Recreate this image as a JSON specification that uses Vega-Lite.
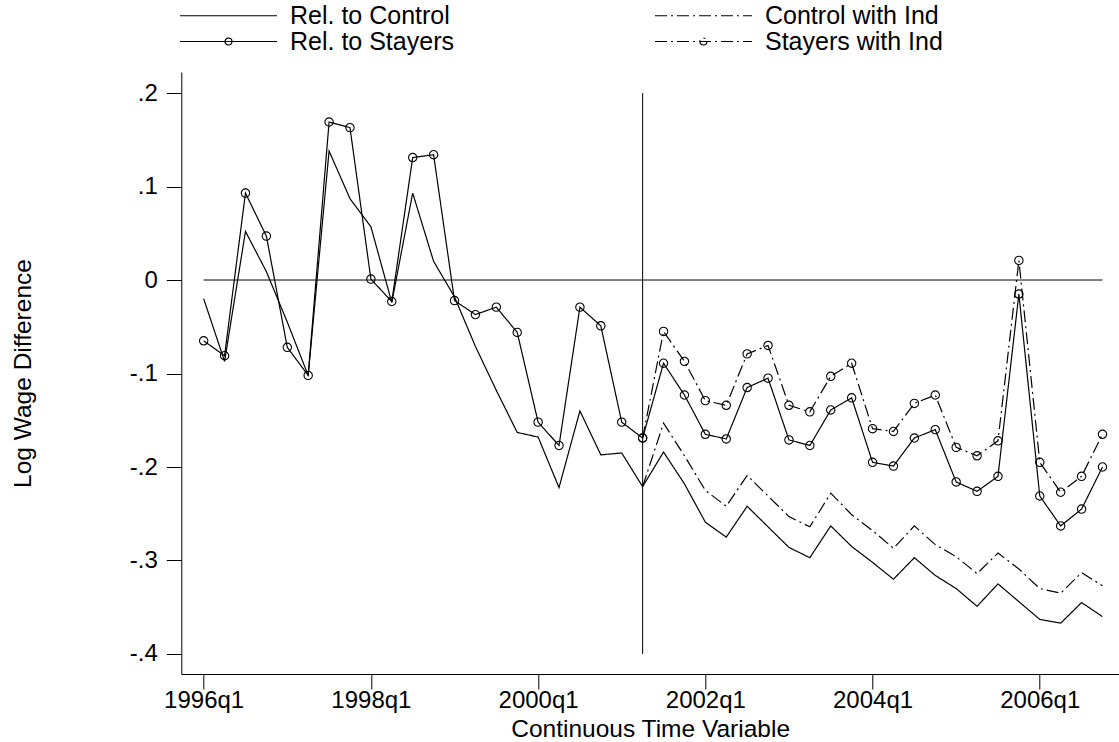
{
  "$schema": "https://vega.github.io/schema/vega-lite/v6.json",
  "width": 937.7,
  "height": 602,
  "autosize": {"type": "none"},
  "padding": {"left": 181.3, "top": 72, "right": 0, "bottom": 68},
  "background": "white",
  "config": {
    "view": {"stroke": null},
    "font": "Liberation Sans",
    "axis": {
      "grid": false,
      "domainColor": "black",
      "domainWidth": 1,
      "tickColor": "black",
      "tickWidth": 1,
      "tickSize": 15,
      "labelFont": "Liberation Sans",
      "labelFontSize": 24,
      "labelColor": "black",
      "titleFont": "Liberation Sans",
      "titleFontSize": 24.5,
      "titleFontWeight": "normal",
      "titleColor": "black"
    }
  },
  "datasets": {
    "series": [
      {"t":144,"s":"Rel. to Control","v":-0.020},{"t":145,"s":"Rel. to Control","v":-0.087},{"t":146,"s":"Rel. to Control","v":0.052},{"t":147,"s":"Rel. to Control","v":0.009},
      {"t":148,"s":"Rel. to Control","v":-0.045},{"t":149,"s":"Rel. to Control","v":-0.102},{"t":150,"s":"Rel. to Control","v":0.138},{"t":151,"s":"Rel. to Control","v":0.087},
      {"t":152,"s":"Rel. to Control","v":0.057},{"t":153,"s":"Rel. to Control","v":-0.024},{"t":154,"s":"Rel. to Control","v":0.093},{"t":155,"s":"Rel. to Control","v":0.020},
      {"t":156,"s":"Rel. to Control","v":-0.018},{"t":157,"s":"Rel. to Control","v":-0.071},{"t":158,"s":"Rel. to Control","v":-0.118},{"t":159,"s":"Rel. to Control","v":-0.163},
      {"t":160,"s":"Rel. to Control","v":-0.168},{"t":161,"s":"Rel. to Control","v":-0.222},{"t":162,"s":"Rel. to Control","v":-0.140},{"t":163,"s":"Rel. to Control","v":-0.187},
      {"t":164,"s":"Rel. to Control","v":-0.185},{"t":165,"s":"Rel. to Control","v":-0.221},{"t":166,"s":"Rel. to Control","v":-0.184},{"t":167,"s":"Rel. to Control","v":-0.218},
      {"t":168,"s":"Rel. to Control","v":-0.259},{"t":169,"s":"Rel. to Control","v":-0.275},{"t":170,"s":"Rel. to Control","v":-0.242},{"t":171,"s":"Rel. to Control","v":-0.264},
      {"t":172,"s":"Rel. to Control","v":-0.286},{"t":173,"s":"Rel. to Control","v":-0.297},{"t":174,"s":"Rel. to Control","v":-0.263},{"t":175,"s":"Rel. to Control","v":-0.285},
      {"t":176,"s":"Rel. to Control","v":-0.302},{"t":177,"s":"Rel. to Control","v":-0.320},{"t":178,"s":"Rel. to Control","v":-0.297},{"t":179,"s":"Rel. to Control","v":-0.316},
      {"t":180,"s":"Rel. to Control","v":-0.330},{"t":181,"s":"Rel. to Control","v":-0.349},{"t":182,"s":"Rel. to Control","v":-0.325},{"t":183,"s":"Rel. to Control","v":-0.344},
      {"t":184,"s":"Rel. to Control","v":-0.363},{"t":185,"s":"Rel. to Control","v":-0.367},{"t":186,"s":"Rel. to Control","v":-0.345},{"t":187,"s":"Rel. to Control","v":-0.360},

      {"t":144,"s":"Rel. to Stayers","v":-0.065},{"t":145,"s":"Rel. to Stayers","v":-0.081},{"t":146,"s":"Rel. to Stayers","v":0.093},{"t":147,"s":"Rel. to Stayers","v":0.047},
      {"t":148,"s":"Rel. to Stayers","v":-0.072},{"t":149,"s":"Rel. to Stayers","v":-0.102},{"t":150,"s":"Rel. to Stayers","v":0.169},{"t":151,"s":"Rel. to Stayers","v":0.163},
      {"t":152,"s":"Rel. to Stayers","v":0.001},{"t":153,"s":"Rel. to Stayers","v":-0.023},{"t":154,"s":"Rel. to Stayers","v":0.131},{"t":155,"s":"Rel. to Stayers","v":0.134},
      {"t":156,"s":"Rel. to Stayers","v":-0.022},{"t":157,"s":"Rel. to Stayers","v":-0.037},{"t":158,"s":"Rel. to Stayers","v":-0.029},{"t":159,"s":"Rel. to Stayers","v":-0.056},
      {"t":160,"s":"Rel. to Stayers","v":-0.152},{"t":161,"s":"Rel. to Stayers","v":-0.177},{"t":162,"s":"Rel. to Stayers","v":-0.029},{"t":163,"s":"Rel. to Stayers","v":-0.049},
      {"t":164,"s":"Rel. to Stayers","v":-0.152},{"t":165,"s":"Rel. to Stayers","v":-0.169},{"t":166,"s":"Rel. to Stayers","v":-0.089},{"t":167,"s":"Rel. to Stayers","v":-0.123},
      {"t":168,"s":"Rel. to Stayers","v":-0.165},{"t":169,"s":"Rel. to Stayers","v":-0.170},{"t":170,"s":"Rel. to Stayers","v":-0.115},{"t":171,"s":"Rel. to Stayers","v":-0.105},
      {"t":172,"s":"Rel. to Stayers","v":-0.171},{"t":173,"s":"Rel. to Stayers","v":-0.177},{"t":174,"s":"Rel. to Stayers","v":-0.139},{"t":175,"s":"Rel. to Stayers","v":-0.126},
      {"t":176,"s":"Rel. to Stayers","v":-0.195},{"t":177,"s":"Rel. to Stayers","v":-0.199},{"t":178,"s":"Rel. to Stayers","v":-0.169},{"t":179,"s":"Rel. to Stayers","v":-0.160},
      {"t":180,"s":"Rel. to Stayers","v":-0.216},{"t":181,"s":"Rel. to Stayers","v":-0.226},{"t":182,"s":"Rel. to Stayers","v":-0.210},{"t":183,"s":"Rel. to Stayers","v":-0.015},
      {"t":184,"s":"Rel. to Stayers","v":-0.231},{"t":185,"s":"Rel. to Stayers","v":-0.263},{"t":186,"s":"Rel. to Stayers","v":-0.245},{"t":187,"s":"Rel. to Stayers","v":-0.200},

      {"t":165,"s":"Control with Ind","v":-0.221},{"t":166,"s":"Control with Ind","v":-0.153},{"t":167,"s":"Control with Ind","v":-0.188},
      {"t":168,"s":"Control with Ind","v":-0.225},{"t":169,"s":"Control with Ind","v":-0.242},{"t":170,"s":"Control with Ind","v":-0.209},{"t":171,"s":"Control with Ind","v":-0.231},
      {"t":172,"s":"Control with Ind","v":-0.253},{"t":173,"s":"Control with Ind","v":-0.264},{"t":174,"s":"Control with Ind","v":-0.228},{"t":175,"s":"Control with Ind","v":-0.251},
      {"t":176,"s":"Control with Ind","v":-0.268},{"t":177,"s":"Control with Ind","v":-0.287},{"t":178,"s":"Control with Ind","v":-0.263},{"t":179,"s":"Control with Ind","v":-0.283},
      {"t":180,"s":"Control with Ind","v":-0.296},{"t":181,"s":"Control with Ind","v":-0.314},{"t":182,"s":"Control with Ind","v":-0.292},{"t":183,"s":"Control with Ind","v":-0.309},
      {"t":184,"s":"Control with Ind","v":-0.330},{"t":185,"s":"Control with Ind","v":-0.335},{"t":186,"s":"Control with Ind","v":-0.313},{"t":187,"s":"Control with Ind","v":-0.327},

      {"t":165,"s":"Stayers with Ind","v":-0.169},{"t":166,"s":"Stayers with Ind","v":-0.055},{"t":167,"s":"Stayers with Ind","v":-0.087},
      {"t":168,"s":"Stayers with Ind","v":-0.129},{"t":169,"s":"Stayers with Ind","v":-0.134},{"t":170,"s":"Stayers with Ind","v":-0.079},{"t":171,"s":"Stayers with Ind","v":-0.070},
      {"t":172,"s":"Stayers with Ind","v":-0.134},{"t":173,"s":"Stayers with Ind","v":-0.141},{"t":174,"s":"Stayers with Ind","v":-0.103},{"t":175,"s":"Stayers with Ind","v":-0.089},
      {"t":176,"s":"Stayers with Ind","v":-0.159},{"t":177,"s":"Stayers with Ind","v":-0.162},{"t":178,"s":"Stayers with Ind","v":-0.132},{"t":179,"s":"Stayers with Ind","v":-0.123},
      {"t":180,"s":"Stayers with Ind","v":-0.179},{"t":181,"s":"Stayers with Ind","v":-0.188},{"t":182,"s":"Stayers with Ind","v":-0.172},{"t":183,"s":"Stayers with Ind","v":0.021},
      {"t":184,"s":"Stayers with Ind","v":-0.195},{"t":185,"s":"Stayers with Ind","v":-0.227},{"t":186,"s":"Stayers with Ind","v":-0.210},{"t":187,"s":"Stayers with Ind","v":-0.165}
    ]
  },
  "encoding": {
    "x": {
      "field": "t", "type": "quantitative",
      "scale": {"domain": [142.93, 187.79], "nice": false, "zero": false},
      "axis": {
        "title": "Continuous Time Variable",
        "values": [144, 152, 160, 168, 176, 184],
        "labelExpr": "(floor(datum.value / 4) + 1960) + 'q' + (datum.value % 4 + 1)",
        "labelBaseline": "alphabetic",
        "labelPadding": 18,
        "labelFlush": false,
        "labelOverlap": false,
        "titleBaseline": "alphabetic",
        "titleY": 62
      }
    },
    "y": {
      "field": "v", "type": "quantitative",
      "scale": {"domain": [-0.4214, 0.2225], "nice": false, "zero": false},
      "axis": {
        "title": "Log Wage Difference",
        "values": [-0.4, -0.3, -0.2, -0.1, 0, 0.1, 0.2],
        "labelExpr": "datum.value == 0 ? '0' : (datum.value < 0 ? '-' : '') + replace(format(abs(datum.value), '.1f'), '0.', '.')",
        "labelPadding": 9,
        "labelFlush": false,
        "labelOverlap": false,
        "titleAngle": 270,
        "titleBaseline": "alphabetic",
        "titleAlign": "center",
        "titleX": -151,
        "titleY": 301
      }
    }
  },
  "layer": [
    {
      "data": {"values": [{"t": 144, "t2": 187, "v": 0}]},
      "mark": {"type": "rule", "color": "black", "strokeWidth": 1},
      "encoding": {"x2": {"field": "t2"}}
    },
    {
      "data": {"values": [{"t": 165, "v": -0.4, "v2": 0.2}]},
      "mark": {"type": "rule", "color": "black", "strokeWidth": 1},
      "encoding": {"y2": {"field": "v2"}}
    },
    {
      "data": {"name": "series"},
      "mark": {"type": "line", "color": "black", "strokeWidth": 1.2},
      "encoding": {
        "strokeDash": {
          "field": "s", "type": "nominal",
          "scale": {
            "domain": ["Rel. to Control", "Control with Ind", "Rel. to Stayers", "Stayers with Ind"],
            "range": [[1, 0], [12, 4, 2, 4], [1, 0], [12, 4, 2, 4]]
          },
          "legend": {
            "title": null,
            "orient": "none",
            "legendX": 34.7,
            "legendY": -69,
            "direction": "horizontal",
            "columns": 2,
            "columnPadding": 198,
            "rowPadding": 0,
            "padding": 0,
            "symbolSize": 400,
            "symbolStrokeWidth": 1.2,
            "symbolStrokeColor": "black",
            "symbolFillColor": "transparent",
            "labelFont": "Liberation Sans",
            "labelFontSize": 25,
            "labelColor": "black",
            "labelOffset": 49,
            "labelLimit": 400,
            "encode": {
              "symbols": {
                "update": {
                  "shape": {"signal": "indexof(datum.value, 'Stayers') >= 0 ? 'M-4.85,0H4.85M0.35,0A0.35,0.35,0,1,1,-0.35,0A0.35,0.35,0,1,1,0.35,0' : 'M-4.85,0H4.85'"},
                  "fill": {"value": "transparent"},
                  "stroke": {"value": "black"}
                }
              }
            }
          }
        }
      }
    },
    {
      "data": {"name": "series"},
      "transform": [{"filter": "indexof(datum.s, 'Stayers') >= 0"}],
      "mark": {"type": "point", "shape": "circle", "filled": false, "size": 70, "color": "black", "strokeWidth": 1.1, "opacity": 1}
    }
  ]
}
